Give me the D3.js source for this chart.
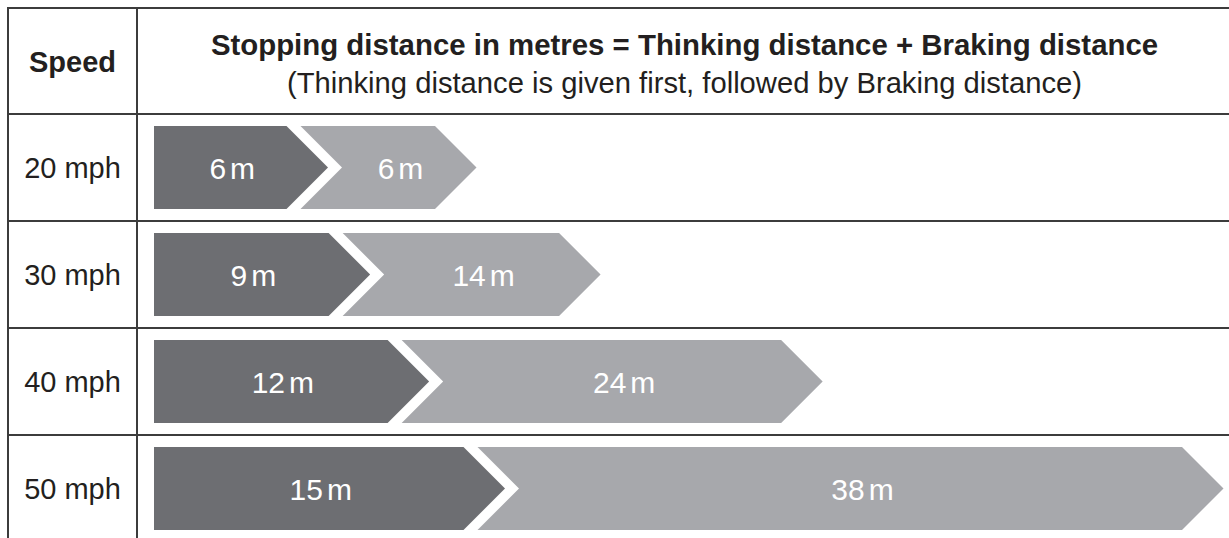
<!DOCTYPE html>
<html>
<head>
<meta charset="utf-8">
<script src="https://cdn.jsdelivr.net/npm/d3@7"></script>
<style>
  body { margin: 0; background: #fff; }
  text { font-family: "Liberation Sans", Arial, sans-serif; fill: #231f20; }
</style>
</head>
<body>
<div id="chart"></div>
<script>
// Data
var speeds = ["20 mph", "30 mph", "40 mph", "50 mph"];
var thinking = [6, 9, 12, 15];   // metres
var braking = [6, 14, 24, 38];   // metres
var headerTitle = "Stopping distance in metres = Thinking distance + Braking distance";
var headerSub = "(Thinking distance is given first, followed by Braking distance)";
var speedHeader = "Speed";

var width = 1229, height = 538;
var leftX = 8, topY = 8, colSplit = 137, rightX = 1232;
var headerBottom = 114, rowStep = 107;

var svg = d3.select("#chart").append("svg")
  .attr("width", width)
  .attr("height", height);

// rows of the table
var y = d3.scaleBand()
  .domain(speeds)
  .range([headerBottom, headerBottom + rowStep * speeds.length])
  .paddingInner(0)
  .paddingOuter(0);

// the picture is not drawn to scale, so each series gets its own length scale
var thinkLen = d3.scalePow().exponent(2)
  .domain(d3.extent(thinking))
  .range([174, 351]);
var brakeLen = d3.scalePow().exponent(1.72)
  .domain(d3.extent(braking))
  .range([176, 746]);

var barH = 83, tip = barH / 2, gap = 14, x0 = 154;
var dark = "#6d6e72", light = "#a7a8ac";

var rows = speeds.map(function (s, i) {
  var barTop = y(s) + (y.bandwidth() - barH) / 2;
  var darkEnd = x0 + thinkLen(thinking[i]) - tip;
  var ls = darkEnd + gap;
  var lightEnd = ls + brakeLen(braking[i]) - tip;
  return { speed: s, t: thinking[i], b: braking[i], top: barTop, darkEnd: darkEnd, ls: ls, lightEnd: lightEnd };
});

// thinking arrows
svg.selectAll(".think")
  .data(rows)
  .enter().append("path")
  .attr("class", "think")
  .attr("fill", dark)
  .attr("d", function (d) {
    var m = d.top + barH / 2, b = d.top + barH;
    return "M" + x0 + "," + d.top + "L" + d.darkEnd + "," + d.top +
      "L" + (d.darkEnd + tip) + "," + m + "L" + d.darkEnd + "," + b +
      "L" + x0 + "," + b + "Z";
  });

// braking arrows (chevrons)
svg.selectAll(".brake")
  .data(rows)
  .enter().append("path")
  .attr("class", "brake")
  .attr("fill", light)
  .attr("d", function (d) {
    var m = d.top + barH / 2, b = d.top + barH;
    return "M" + d.ls + "," + d.top + "L" + d.lightEnd + "," + d.top +
      "L" + (d.lightEnd + tip) + "," + m + "L" + d.lightEnd + "," + b +
      "L" + d.ls + "," + b + "L" + (d.ls + tip) + "," + m + "Z";
  });

function metreLabel(sel, xf, valf) {
  var t = sel.append("text")
    .attr("x", xf)
    .attr("y", function (d) { return d.top + barH / 2 + 11; })
    .attr("text-anchor", "middle")
    .style("font-size", "30px")
    .style("fill", "#fff");
  t.append("tspan").text(valf);
  t.append("tspan").attr("dx", 4).text("m");
}

var labels = svg.selectAll(".lab").data(rows).enter().append("g").attr("class", "lab");
metreLabel(labels, function (d) { return (x0 + d.darkEnd) / 2 + 12; }, function (d) { return d.t; });
metreLabel(labels, function (d) { return (d.ls + d.lightEnd + tip) / 2 + 12; }, function (d) { return d.b; });

// speed labels
svg.selectAll(".speed")
  .data(speeds)
  .enter().append("text")
  .attr("class", "speed")
  .attr("x", (leftX + colSplit) / 2)
  .attr("y", function (d) { return y(d) + y.bandwidth() / 2 + 10.5; })
  .attr("text-anchor", "middle")
  .style("font-size", "29px")
  .text(function (d) { return d; });

// header
svg.append("text")
  .attr("x", (leftX + colSplit) / 2)
  .attr("y", 71.5)
  .attr("text-anchor", "middle")
  .style("font-size", "29px")
  .style("font-weight", "bold")
  .text(speedHeader);

svg.append("text")
  .attr("x", (colSplit + rightX) / 2)
  .attr("y", 55)
  .attr("text-anchor", "middle")
  .style("font-size", "29.4px")
  .style("font-weight", "bold")
  .text(headerTitle);

svg.append("text")
  .attr("x", (colSplit + rightX) / 2)
  .attr("y", 93)
  .attr("text-anchor", "middle")
  .style("font-size", "29.2px")
  .text(headerSub);

// table rules
var lineColor = "#3c3c3c";
var hLines = [topY, headerBottom].concat(speeds.slice(1).map(function (s) { return y(s); }));
svg.selectAll(".hline")
  .data(hLines)
  .enter().append("line")
  .attr("x1", leftX).attr("x2", rightX)
  .attr("y1", function (d) { return d; })
  .attr("y2", function (d) { return d; })
  .attr("stroke", lineColor)
  .attr("stroke-width", 2);

svg.selectAll(".vline")
  .data([leftX, colSplit, rightX])
  .enter().append("line")
  .attr("x1", function (d) { return d; })
  .attr("x2", function (d) { return d; })
  .attr("y1", topY - 1).attr("y2", height + 10)
  .attr("stroke", lineColor)
  .attr("stroke-width", 2);
</script>
</body>
</html>
